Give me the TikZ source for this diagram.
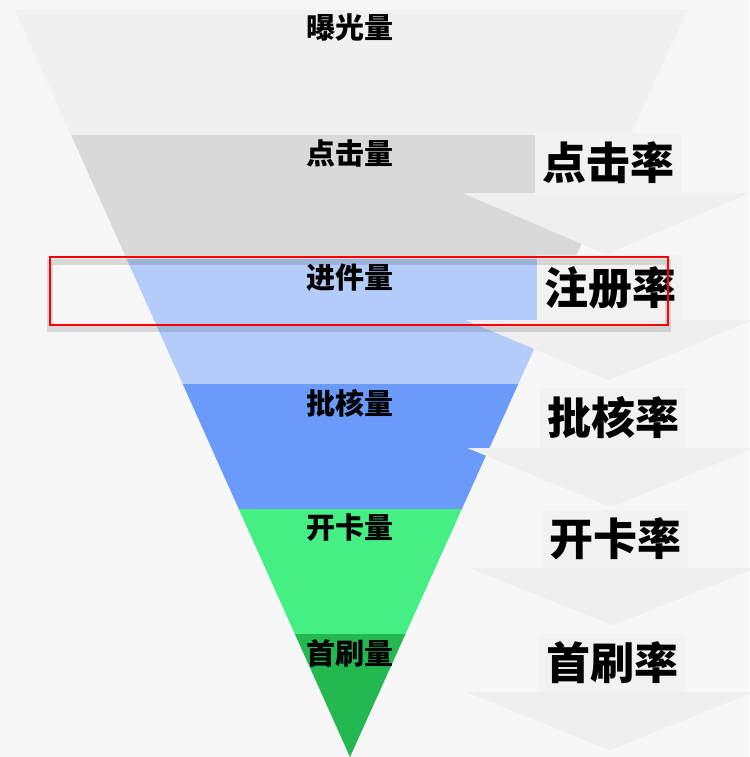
\documentclass[tikz,border=0pt]{standalone}
\usepackage{fontspec}
\setmainfont{Noto Sans CJK SC}[BoldFont={Noto Sans CJK SC Black}]
\usetikzlibrary{positioning}
\definecolor{bgGray}{HTML}{F7F7F7}
\definecolor{boxGray}{HTML}{F2F2F2}
\definecolor{chevGray}{HTML}{EFEFEF}
\definecolor{expoGray}{HTML}{F0F0F0}
\definecolor{clickGray}{HTML}{D9D9D9}
\definecolor{applyBlue}{HTML}{B4CCFA}
\definecolor{approveBlue}{HTML}{6A9BFB}
\definecolor{cardGreen}{HTML}{46EF84}
\definecolor{useGreen}{HTML}{24B850}
\tikzstyle{level} = [
    font=\fontsize{29}{32}\selectfont\bfseries, 
    text=black, 
    inner sep=0pt
]
\tikzstyle{rate} = [
    fill=boxGray, 
    minimum width=146pt, 
    minimum height=60pt, 
    inner sep=0pt, 
    font=\fontsize{44}{48}\selectfont\bfseries
]
\tikzstyle{chevron} = [
    fill=chevGray
]

\begin{document}
\begin{tikzpicture}[x=1pt, y=-1pt, node distance=125pt]
        \useasboundingbox (0,0) rectangle (749,757);
        \fill[bgGray] (0,0) rectangle (749,757);
        
        % funnel bands
        \begin{scope}
            \clip (15,10) -- (687,10) -- (350,757) -- cycle;
            \fill[expoGray] (0,10) rectangle (749,135);
            \fill[clickGray] (0,135) rectangle (749,259);
            \fill[applyBlue] (0,259) rectangle (749,384);
            \fill[approveBlue] (0,384) rectangle (749,509);
            \fill[cardGreen] (0,509) rectangle (749,634);
            \fill[useGreen] (0,634) rectangle (749,757);
        \end{scope}
        
        \node (exposure) [level] at (350,28) {曝光量};
        \node (click) [level, below of=exposure] {点击量};
        \node (apply) [level, below of=click] {进件量};
        \node (approve) [level, below of=apply] {批核量};
        \node (card) [level, below of=approve] {开卡量};
        \node (firstuse) [level, below of=card] {首刷量};
        
        % rates on the right
        \node (clickrate) [rate] at (608,163) {点击率};
        \node (regrate) [rate, minimum height=65pt] at (610,287.5) {注册率};
        \node (approverate) [rate] at (613,418) {批核率};
        \node (cardrate) [rate, minimum height=58pt] at (615,539) {开卡率};
        \node (userate) [rate, minimum height=58pt] at (612,663) {首刷率};
        
        \fill[chevron] ([xshift=-72pt]clickrate.south west) -- ++(286,0) -- ++(-143,61) -- cycle;
        \fill[chevron] ([xshift=-71pt]regrate.south west) -- ++(286,0) -- ++(-143,60) -- cycle;
        \fill[chevron] ([xshift=-72pt]approverate.south west) -- ++(286,0) -- ++(-143,59) -- cycle;
        \fill[chevron] ([xshift=-72pt]cardrate.south west) -- ++(286,0) -- ++(-143,57) -- cycle;
        \fill[chevron] ([xshift=-72pt]userate.south west) -- ++(286,0) -- ++(-143,58) -- cycle;
        
        % highlight
        \draw[black, opacity=0.12, line width=6pt] (50,262) rectangle (668,329);
        \node (highlight) [draw=red, line width=2.5pt, minimum width=618pt, minimum height=68pt, inner sep=0pt] at (359,291) {};
    \end{tikzpicture}
\end{document}
